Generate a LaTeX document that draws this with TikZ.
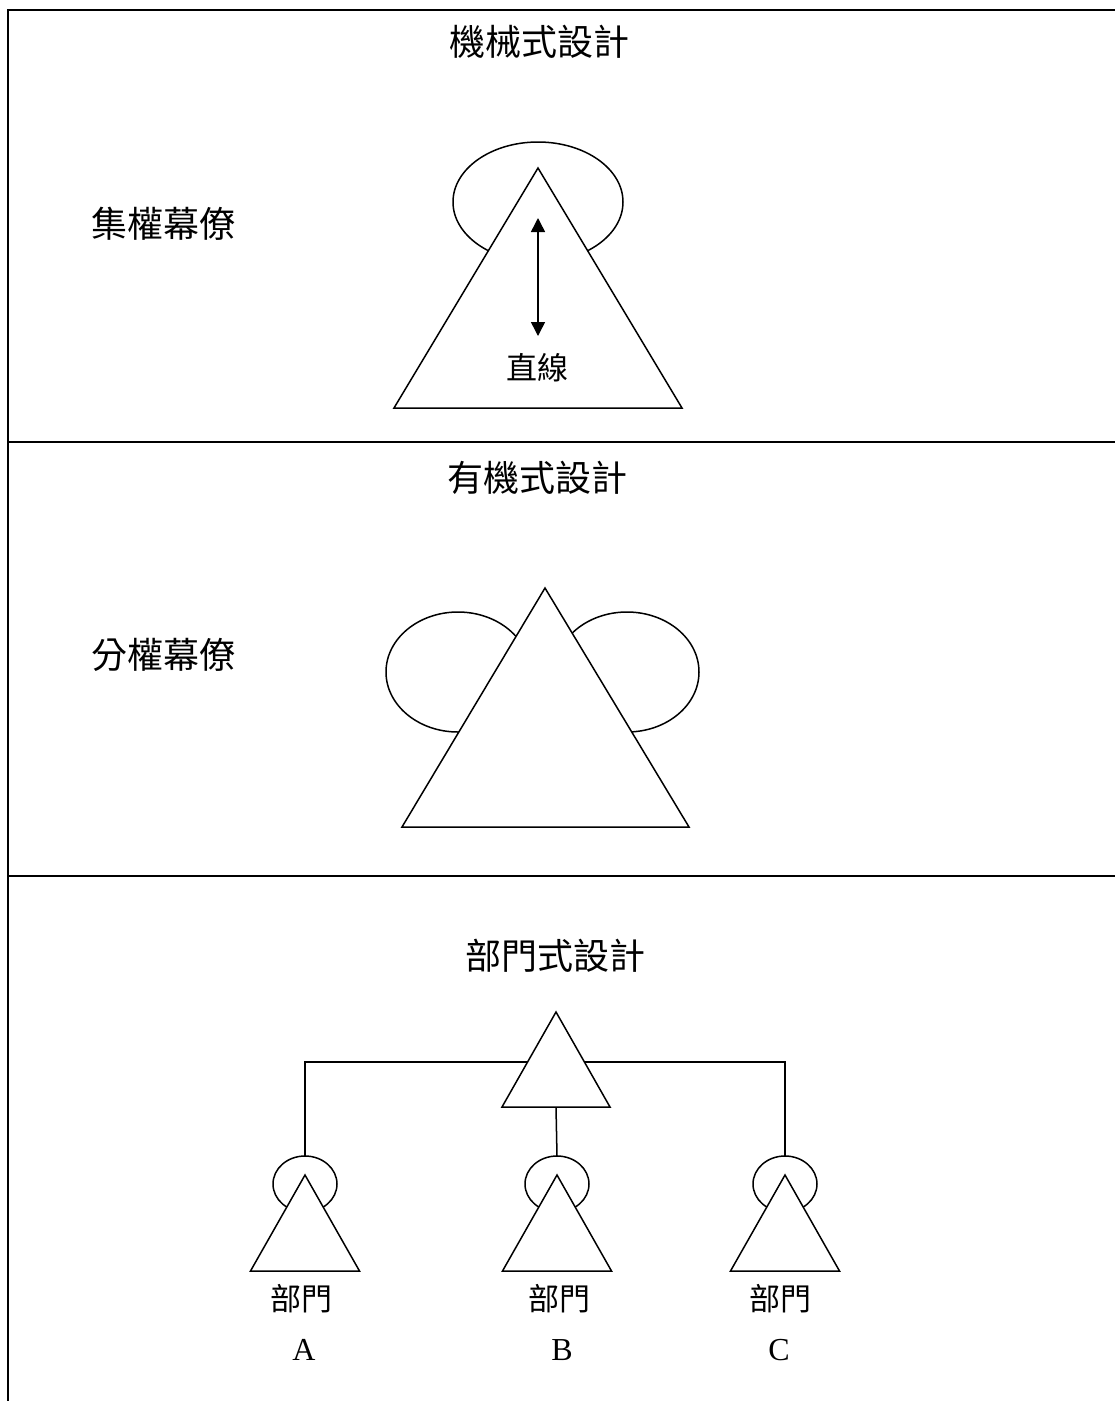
\documentclass[tikz,border=0pt]{standalone}
\usepackage{fontspec}
\setmainfont{Liberation Serif}
\newfontfamily\cjk{Noto Sans CJK TC}
\usetikzlibrary{arrows.meta}
\tikzset{
  frame/.style={line width=1.8pt},
  outl/.style={line width=1.5pt},
  tri/.style={line width=1.5pt, fill=white, line join=miter},
  big/.style={inner sep=0pt, font=\cjk\fontsize{36pt}{40pt}\selectfont},
  small/.style={inner sep=0pt, font=\cjk\fontsize{31pt}{34pt}\selectfont},
  letter/.style={inner sep=0pt, font=\fontsize{32pt}{36pt}\selectfont},
  dblarrow/.style={line width=1.5pt, {Triangle[length=14pt,width=14pt]}-{Triangle[length=14pt,width=14pt]}}
}
\begin{document}
\begin{tikzpicture}[x=1pt,y=-1pt]
\useasboundingbox (0,0) rectangle (1115,1401);
% frame
\coordinate (tl) at (8,10);
\coordinate (bl) at (8,1401);
\coordinate (tr) at (1115,10);
\coordinate (m1l) at (8,442);
\coordinate (m1r) at (1115,442);
\coordinate (m2l) at (8,876);
\coordinate (m2r) at (1115,876);
\draw[frame] (bl) -- (tl) -- (tr);
\draw[frame] (m1l) -- (m1r);
\draw[frame] (m2l) -- (m2r);

% ---------- section 1
\node[big] (t1) at (539,42) {機械式設計};
\node[big] (s1) at (163,224) {集權幕僚};
\draw[outl] (538,202) ellipse [x radius=85, y radius=60];
\draw[tri] (538,168) -- (682,408) -- (394,408) -- cycle;
\coordinate (arTop) at (538,218);
\coordinate (arBot) at (538,336);
\draw[dblarrow] (arTop) -- (arBot);
\node[small] (zx) at (537,368) {直線};

% ---------- section 2
\node[big] (t2) at (537,478) {有機式設計};
\node[big] (s2) at (163,655) {分權幕僚};
\draw[outl] (458,672) ellipse [x radius=72, y radius=60];
\draw[outl] (627,672) ellipse [x radius=72, y radius=60];
\draw[tri] (545,588) -- (689,827) -- (402,827) -- cycle;

% ---------- section 3
\node[big] (t3) at (555,956) {部門式設計};
\coordinate (hA) at (305,1062);
\coordinate (hC) at (785,1062);
\coordinate (topA) at (305,1156);
\coordinate (topB) at (557,1156);
\coordinate (topC) at (785,1156);
\coordinate (hqBase) at (556,1107);
\draw[outl] (topA) -- (hA) -- (hC) -- (topC);
\draw[outl] (hqBase) -- (topB);
\draw[tri] (556,1012) -- (610,1107) -- (502,1107) -- cycle;
% units
\foreach \cx/\name/\lx/\tx in {305/A/301/304, 557/B/559/562, 785/C/780/779}{
  \draw[outl] (\cx,1184) ellipse [x radius=32, y radius=28];
  \draw[tri] (\cx,1175) -- (\cx+54.5,1271) -- (\cx-54.5,1271) -- cycle;
  \node[small] (dept\name) at (\lx,1299) {部門};
  \node[letter] (lab\name) at (\tx,1350) {\name};
}
\end{tikzpicture}
\end{document}
